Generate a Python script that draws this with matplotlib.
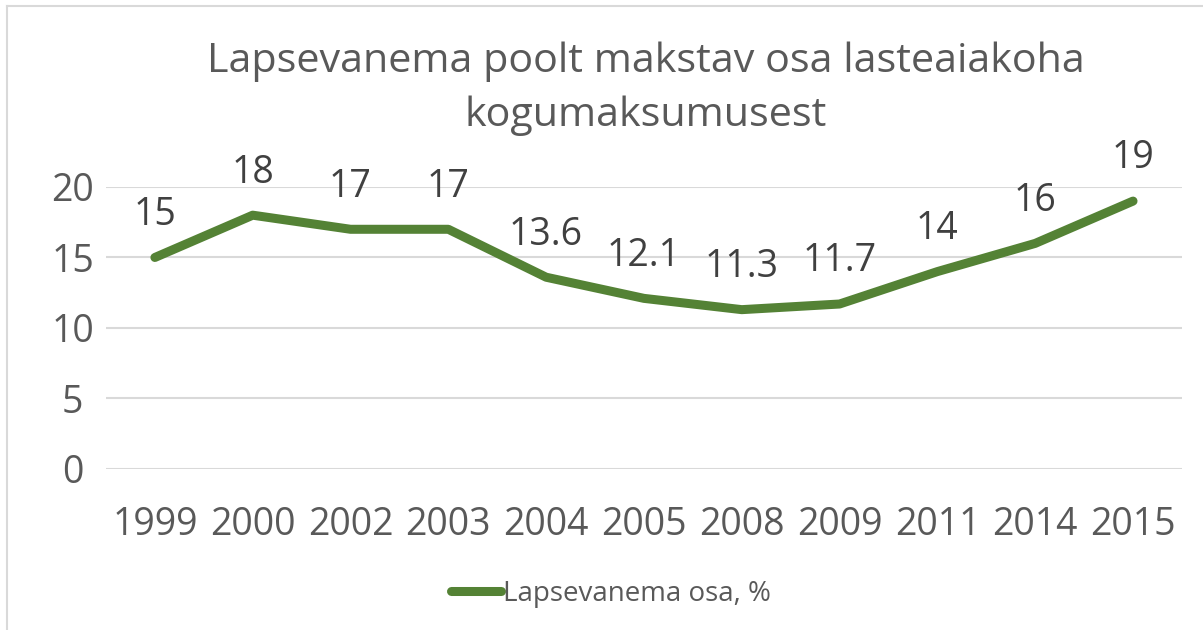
import matplotlib
matplotlib.use('Agg')
import matplotlib.pyplot as plt
from matplotlib.lines import Line2D

plt.rcParams['font.family'] = ['Open Sans', 'DejaVu Sans']

years = ['1999', '2000', '2002', '2003', '2004', '2005', '2008', '2009', '2011', '2014', '2015']
share = [15, 18, 17, 17, 13.6, 12.1, 11.3, 11.7, 14, 16, 19]
share_labels = ['15', '18', '17', '17', '13.6', '12.1', '11.3', '11.7', '14', '16', '19']
y_ticks = [0, 5, 10, 15, 20]

GREEN = '#548235'
TEXT = '#595959'
LABEL = '#404040'
GRID = '#d9d9d9'

fig = plt.figure(figsize=(12.03, 6.3), dpi=100)
ax = fig.add_axes([0.0881, 0.2556, 0.8944, 0.4476])

x = list(range(len(years)))
ax.plot(x, share, color=GREEN, linewidth=6.5, solid_capstyle='round',
        solid_joinstyle='round', zorder=3)

for xi, yi, lab in zip(x, share, share_labels):
    ax.annotate(lab, (xi, yi), xytext=(0, 17), textcoords='offset points',
                ha='center', va='bottom', fontsize=27, color=LABEL)

ax.set_xlim(-0.5, len(years) - 0.5)
ax.set_ylim(0, 20)
ax.set_yticks(y_ticks)
ax.set_xticks(x)
ax.set_xticklabels(years)
ax.tick_params(axis='both', length=0, labelsize=27, colors=TEXT)
ax.tick_params(axis='x', pad=27)
ax.tick_params(axis='y', pad=24)
for lab in ax.get_yticklabels():
    lab.set_horizontalalignment('center')
ax.grid(axis='y', color=GRID, linewidth=1.5)
ax.set_axisbelow(True)
for s in ax.spines.values():
    s.set_visible(False)

fig.text(0.537, 0.859, 'Lapsevanema poolt makstav osa lasteaiakoha\nkogumaksumusest',
         ha='center', va='center', fontsize=29.7, color=TEXT, linespacing=1.47)

handle = Line2D([], [], color=GREEN, linewidth=6.5, solid_capstyle='round')
fig.legend([handle], ['Lapsevanema osa, %'], loc='center', bbox_to_anchor=(0.508, 0.057),
           frameon=False, fontsize=20, labelcolor=TEXT, handlelength=1.8,
           handletextpad=0.08)

# chart border (left and top edges visible)
fig.add_artist(Line2D([7 / 1203, 7 / 1203], [0, 1 - 6 / 630], color=GRID, linewidth=1.5,
                      transform=fig.transFigure))
fig.add_artist(Line2D([7 / 1203, 1], [1 - 6 / 630, 1 - 6 / 630], color=GRID, linewidth=1.5,
                      transform=fig.transFigure))

fig.savefig('out.png', dpi=100)
